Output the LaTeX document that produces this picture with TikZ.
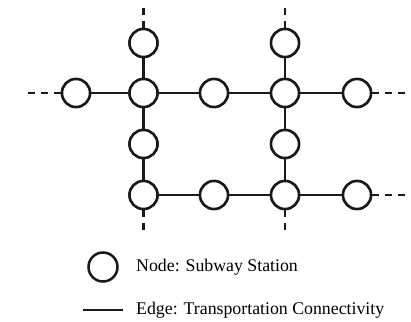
\documentclass[tikz,border=0pt]{standalone}
\usepackage{fontspec}
\setmainfont{Liberation Serif}
\begin{document}
\begin{tikzpicture}[x=1pt,y=-1pt,
  station/.style={circle,draw=black!90,line width=2.5pt,minimum size=28pt,inner sep=0pt,fill=white},
  edge/.style={line width=2.2pt,draw=black!90},
  ext/.style={edge,dash pattern=on 7pt off 6pt},
  lbl/.style={anchor=west,font=\fontsize{17.8}{20}\selectfont,text=black,inner sep=0pt}]
\useasboundingbox (0,0) rectangle (411,321);
% stations
\node[station] (a1) at (143.5,43) {};
\node[station] (b1) at (285,43) {};
\node[station] (m0) at (76,93) {};
\node[station] (m1) at (143.5,93) {};
\node[station] (m2) at (214,93) {};
\node[station] (m3) at (285,93) {};
\node[station] (m4) at (357,93) {};
\node[station] (c1) at (143.5,144) {};
\node[station] (c3) at (285,144) {};
\node[station] (d1) at (143.5,195) {};
\node[station] (d2) at (214,195) {};
\node[station] (d3) at (285,195) {};
\node[station] (d4) at (357,195) {};
% free ends
\coordinate (ta) at (143.5,7);
\coordinate (tb) at (285,7);
\coordinate (lm) at (22,93);
\coordinate (rm) at (411,93);
\coordinate (rd) at (411,195);
\coordinate (bd1) at (143.5,233);
\coordinate (bd3) at (285,233);
% edges
\draw[edge] (a1) -- (m1) -- (c1) -- (d1);
\draw[edge] (b1) -- (m3) -- (c3) -- (d3);
\draw[edge] (m0) -- (m1) -- (m2) -- (m3) -- (m4);
\draw[edge] (d1) -- (d2) -- (d3) -- (d4);
\draw[ext] (a1) -- (ta);
\draw[ext] (b1) -- (tb);
\draw[ext] (m0) -- (lm);
\draw[ext] (m4) -- (rm);
\draw[ext] (d4) -- (rd);
\draw[ext] (d1) -- (bd1);
\draw[ext] (d3) -- (bd3);
% redraw stations on top
\foreach \n in {a1,b1,m0,m1,m2,m3,m4,c1,c3,d1,d2,d3,d4}{\node[station] at (\n) {};}
% legend
\node[station,minimum size=29pt] (lc) at (103,267) {};
\node[lbl] (lt1) at (136,267) {Node: Subway Station};
\coordinate (le1) at (83,310);
\coordinate (le2) at (123,310);
\draw[edge] (le1) -- (le2);
\node[lbl] (lt2) at (136,310) {Edge: Transportation Connectivity};
\end{tikzpicture}
\end{document}
